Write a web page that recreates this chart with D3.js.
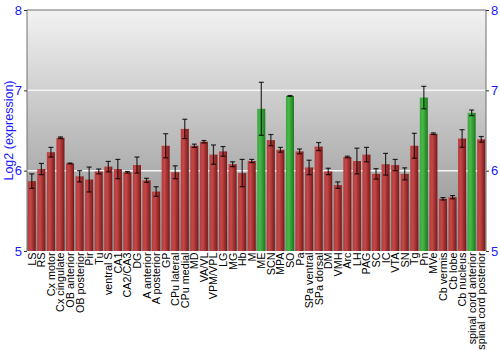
<!doctype html>
<html>
  <head>
    <title>Log2 expression by region</title>
    <style>
      body { margin: 0; background: #fff; }
      svg { display: block; font-family: "Liberation Sans", Arial, sans-serif; }
    </style>
  </head>
  <script src="https://cdnjs.cloudflare.com/ajax/libs/d3/7.8.5/d3.min.js"></script>
  <body>
    <svg id="chart" width="500" height="350"></svg>
    <script>

    var regions = ["LS","RS","Cx motor","Cx cingulate","OB anterior","OB posterior","Pir","Tu","ventral S","CA1","CA2/CA3","DG","A anterior","A posterior","GP","CPu lateral","CPu medial","MD","VA/VL","VPM/VPL","LG","MG","Hb","M","ME","SCN","MPA","SO","Pa","SPa ventral","SPa dorsal","DM","VMH","Arc","LH","PAG","SC","IC","VTA","SN","Tg","Pn","MVe","Cb vermis","Cb lobe","Cb nucleus","spinal cord anterior","spinal cord posterior"];
    var means = [5.87,6.02,6.23,6.41,6.09,5.93,5.89,5.99,6.05,6.02,5.98,6.07,5.88,5.74,6.31,5.98,6.52,6.31,6.36,6.20,6.24,6.08,5.97,6.12,6.77,6.38,6.26,6.93,6.24,6.04,6.30,5.99,5.82,6.17,6.12,6.20,5.96,6.08,6.07,5.96,6.31,6.91,6.46,5.65,5.67,6.40,6.72,6.39];
    var errs = [0.09,0.07,0.06,0.01,0.005,0.07,0.155,0.03,0.065,0.12,0.01,0.1,0.025,0.06,0.15,0.08,0.12,0.02,0.015,0.12,0.06,0.03,0.17,0.02,0.33,0.07,0.03,0.005,0.03,0.09,0.05,0.04,0.04,0.01,0.16,0.09,0.065,0.135,0.07,0.075,0.155,0.14,0.01,0.015,0.02,0.11,0.035,0.035];
    var highlighted = ["ME","SO","Pn","spinal cord anterior"];
    var yTicks = [5,6,7,8];

    var m = { top: 10, right: 14, bottom: 99, left: 27 };
    var W = 500, H = 350;
    var w = W - m.left - m.right, h = H - m.top - m.bottom;

    var svg = d3.select("#chart");
    var defs = svg.append("defs");

    var bg = defs.append("linearGradient").attr("id","bg").attr("x1",0).attr("y1",0).attr("x2",0).attr("y2",1);
    bg.append("stop").attr("offset","0%").attr("stop-color","#f2f2f2");
    bg.append("stop").attr("offset","100%").attr("stop-color","#8c8c8c");

    function barGrad(id, c1, c2, c3) {
      var g = defs.append("linearGradient").attr("id",id).attr("x1",0).attr("y1",0).attr("x2",1).attr("y2",0);
      g.append("stop").attr("offset","0%").attr("stop-color",c1);
      g.append("stop").attr("offset","35%").attr("stop-color",c2);
      g.append("stop").attr("offset","100%").attr("stop-color",c3);
    }
    barGrad("red","#b83a3a","#c44848","#7a1818");
    barGrad("green","#3aa63a","#48b848","#1c7a1c");

    var g = svg.append("g").attr("transform","translate("+m.left+","+m.top+")");

    var x = d3.scaleBand().domain(regions).range([0,w]).paddingInner(0.16).paddingOuter(0.08);
    var y = d3.scaleLinear().domain([5,8]).range([h,0]);

    g.append("rect").attr("width",w).attr("height",h).attr("fill","url(#bg)");

    g.selectAll(".grid").data([6,7]).enter().append("line")
      .attr("x1",0).attr("x2",w)
      .attr("y1",function(d){ return y(d); }).attr("y2",function(d){ return y(d); })
      .attr("stroke","#f4f4f4").attr("stroke-width",1.5);

    g.selectAll(".bar").data(regions).enter().append("rect")
      .attr("x",function(d){ return x(d); })
      .attr("width",x.bandwidth())
      .attr("y",function(d,i){ return y(means[i]); })
      .attr("height",function(d,i){ return h - y(means[i]); })
      .attr("fill",function(d){ return highlighted.indexOf(d) >= 0 ? "url(#green)" : "url(#red)"; });

    var eb = g.selectAll(".err").data(regions).enter().append("g")
      .attr("stroke","#000").attr("stroke-opacity",0.8);
    eb.append("line")
      .attr("x1",function(d){ return x(d) + x.bandwidth()/2; })
      .attr("x2",function(d){ return x(d) + x.bandwidth()/2; })
      .attr("y1",function(d,i){ return y(means[i]+errs[i]); })
      .attr("y2",function(d,i){ return y(means[i]-errs[i]); })
      .attr("stroke-width",1.2);
    [1,-1].forEach(function(s){
      eb.append("line")
        .attr("x1",function(d){ return x(d) + x.bandwidth()/2 - 2.5; })
        .attr("x2",function(d){ return x(d) + x.bandwidth()/2 + 2.5; })
        .attr("y1",function(d,i){ return y(means[i]+s*errs[i]); })
        .attr("y2",function(d,i){ return y(means[i]+s*errs[i]); })
        .attr("stroke-width",1.2);
    });

    // frame on top, left, right
    g.append("path").attr("d","M0,"+h+"V0H"+w+"V"+h)
      .attr("fill","none").attr("stroke","#707070").attr("stroke-width",1);

    var yl = d3.axisLeft(y).tickValues(yTicks).tickSize(3).tickPadding(2).tickFormat(d3.format("d"));
    var yr = d3.axisRight(y).tickValues(yTicks).tickSize(3).tickPadding(2).tickFormat(d3.format("d"));
    [g.append("g").call(yl), g.append("g").attr("transform","translate("+w+",0)").call(yr)].forEach(function(a){
      a.select(".domain").remove();
      a.selectAll(".tick line").attr("stroke","#333");
      a.selectAll(".tick text").attr("fill","#1a1aff").style("font-size","13px").style("font-family","Liberation Sans, Arial, sans-serif");
    });

    g.selectAll(".xl").data(regions).enter().append("text")
      .attr("transform",function(d){ return "translate("+(x(d)+x.bandwidth()/2+4)+","+(h+1.5)+") rotate(-90)"; })
      .attr("text-anchor","end")
      .style("font-size","10.8px")
      .attr("fill","#000")
      .text(function(d){ return d; });

    svg.append("text")
      .attr("transform","translate(13,"+(m.top+h/2)+") rotate(-90)")
      .attr("text-anchor","middle")
      .attr("fill","#1a1aff")
      .style("font-size","12.5px")
      .text("Log2 (expression)");

    </script>
  </body>
</html>
